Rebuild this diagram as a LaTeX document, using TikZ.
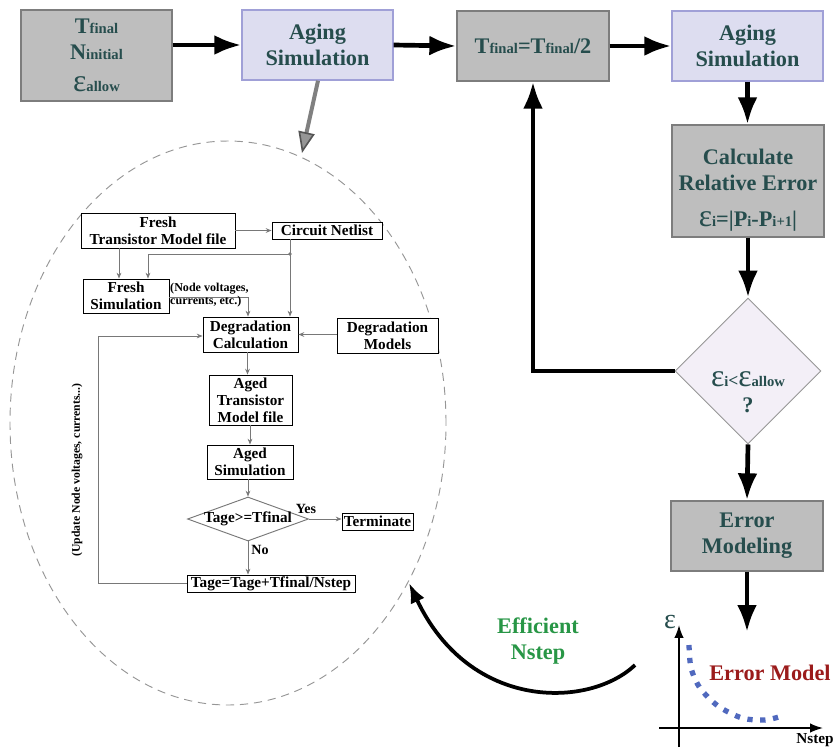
\documentclass[tikz,border=0pt]{standalone}
\usepackage{fontspec}
\setmainfont{Liberation Serif}
\usetikzlibrary{arrows.meta,shapes.geometric,calc}

\def\pxu{0.03cm}

\definecolor{txtc}{RGB}{38,77,77}
\definecolor{boxg}{RGB}{190,190,190}
\definecolor{boxgb}{RGB}{125,125,125}
\definecolor{lav}{RGB}{221,221,240}
\definecolor{lavb}{RGB}{160,160,215}
\definecolor{diaf}{RGB}{243,239,247}
\definecolor{diab}{RGB}{150,150,150}
\definecolor{effg}{RGB}{40,150,70}
\definecolor{emred}{RGB}{155,27,27}
\definecolor{dotb}{RGB}{80,105,190}
\definecolor{ing}{RGB}{120,120,120}
\definecolor{ellg}{RGB}{150,150,150}

\newcommand\mybs[2]{{\fontsize{19}{22}\selectfont #1}{\fontsize{12.5}{15}\selectfont #2}}
\newcommand\myeps{{\mdseries\fontsize{27}{22}\selectfont ε}}

\tikzset{
  bigtxt/.style={font=\bfseries\fontsize{19}{22}\selectfont, text=txtc, align=center, inner sep=0},
  gbox/.style={draw=boxgb, fill=boxg, line width=1.2pt, inner sep=0},
  lbox/.style={draw=lavb, fill=lav, line width=1.2pt, inner sep=0},
  bigarrow/.style={line width=4pt, -{Latex[length=23pt,width=17pt]}},
  ibox/.style={draw=black, fill=white, line width=0.7pt, inner sep=0, align=center,
               font=\bfseries\fontsize{13}{14.5}\selectfont},
  itxt/.style={font=\bfseries\fontsize{13}{14.5}\selectfont, align=center, inner sep=0},
  inarrow/.style={draw=ing, line width=0.8pt, -{Stealth[length=5pt,width=4pt]}},
  inline/.style={draw=ing, line width=0.8pt},
  axis/.style={line width=1.3pt, -{Latex[length=11pt,width=8pt]}}
}

\begin{document}
\begin{tikzpicture}[x=0.03cm,y=-0.03cm]
\useasboundingbox (0,0) rectangle (838,749);

% ---------- top row ----------
\node[gbox, minimum width=151*\pxu, minimum height=91*\pxu] (in) at (96.5,55.5) {};
\node[bigtxt] at (in) {\mybs{T}{final}\\\mybs{N}{initial}\\[6pt]\myeps{\fontsize{12.5}{15}\selectfont allow}};

\node[lbox, minimum width=151*\pxu, minimum height=70*\pxu, bigtxt] (age1) at (317.5,45) {Aging\\Simulation};
\node[gbox, minimum width=152*\pxu, minimum height=70*\pxu, bigtxt] (half) at (533,46) {\mybs{T}{final}\mybs{=T}{final}\mybs{/2}{}};
\node[lbox, minimum width=151*\pxu, minimum height=70*\pxu, bigtxt] (age2) at (747.5,46) {Aging\\Simulation};

\node[gbox, minimum width=152*\pxu, minimum height=112*\pxu] (calc) at (748,181) {};
\node[bigtxt] at (748,190) {Calculate\\Relative Error\\[9pt]\myeps\mybs{}{i}\mybs{=|P}{i}\mybs{-P}{i+1}\mybs{|}{}};

\node[diamond, aspect=1, draw=diab, fill=diaf, line width=0.8pt, inner sep=0,
      minimum width=146*\pxu, minimum height=146*\pxu] (dia) at (748,371) {};
\node[bigtxt] at (748,392) {\myeps\mybs{}{i}{\fontsize{15}{15}\selectfont <}\myeps\mybs{}{allow}\\?};

\node[gbox, minimum width=152*\pxu, minimum height=70*\pxu, bigtxt] (errm) at (747,536) {Error\\Modeling};

\coordinate (gtop) at (747,632);

\draw[bigarrow] (in.east |- age1.west) -- (age1.west);
\draw[bigarrow] (age1.east) -- (half.west);
\draw[bigarrow] (half.east) -- (age2.west);
\draw[bigarrow] (age2.south) -- (calc.north -| age2.south);
\draw[bigarrow] (calc.south) -- (dia.north);
\draw[bigarrow] (dia.south) -- (errm.north);
\draw[bigarrow] (errm.south) -- (gtop);
\draw[bigarrow] (dia.west) -| (half.south);

% ---------- gray arrow into the dashed ellipse ----------
\coordinate (gtip) at (302,153);
\draw[line width=3.4pt, draw={rgb,255:red,128;green,128;blue,128},
      -{Triangle[length=18pt,width=14pt,line width=1.4pt,fill={rgb,255:red,150;green,150;blue,150},color={rgb,255:red,85;green,85;blue,85}]}]
  ([xshift=0.5*\pxu]age1.south) -- (gtip);

\draw[ellg, line width=0.8pt, dash pattern=on 7pt off 5pt] (228,423) ellipse [x radius=218*\pxu, y radius=282*\pxu];

% ---------- inner flowchart ----------
\node[ibox, minimum width=154*\pxu, minimum height=35*\pxu] (ftm) at (158,230.5) {Fresh\\Transistor Model file};
\node[ibox, minimum width=110*\pxu, minimum height=17*\pxu] (cn) at (327,230.5) {Circuit Netlist};
\node[ibox, minimum width=86*\pxu, minimum height=34*\pxu] (fs) at (126,296) {Fresh\\Simulation};
\node[ibox, minimum width=95*\pxu, minimum height=35*\pxu] (dc) at (250.5,334.5) {Degradation\\Calculation};
\node[ibox, minimum width=101*\pxu, minimum height=35*\pxu] (dm) at (387.5,335.5) {Degradation\\Models};
\node[ibox, minimum width=83*\pxu, minimum height=50*\pxu] (atm) at (250.5,400) {Aged\\Transistor\\Model file};
\node[ibox, minimum width=86*\pxu, minimum height=34*\pxu] (as) at (250,462) {Aged\\Simulation};
\node[diamond, draw=ing, fill=white, line width=0.8pt, inner sep=0,
      minimum width=121*\pxu, minimum height=44*\pxu] (td) at (248,519) {};
\node[itxt] at (td) {Tage>=Tfinal};
\node[ibox, minimum width=71*\pxu, minimum height=17*\pxu] (term) at (377.5,521.5) {Terminate};
\node[ibox, minimum width=168*\pxu, minimum height=17*\pxu] (upd) at (271,583.5) {Tage=Tage+Tfinal/Nstep};

\coordinate (j) at (290,254);
\coordinate (loopx) at (98,0);

\draw[inarrow] (ftm.east |- cn.west) -- (cn.west);
\draw[inarrow] ([xshift=-7*\pxu]fs.north |- ftm.south) -- ([xshift=-7*\pxu]fs.north);
\draw[inline] (cn.south -| j) -- (j);
\draw[inarrow] (j) -- (dc.north -| j);
\draw[inarrow] (j) -| ([xshift=22*\pxu]fs.north);
\fill[ing] (j) circle[radius=1.6pt];
\draw[inarrow] ([yshift=-1*\pxu]fs.east) -| ([xshift=-2.5*\pxu]dc.north);
\draw[inarrow] (dm.west |- dc.east) -- (dc.east);
\draw[inarrow] ([xshift=-3*\pxu]dc.south) -- ([xshift=-3*\pxu]dc.south |- atm.north);
\draw[inarrow] (atm.south -| as.north) -- (as.north);
\draw[inarrow] (as.south -| td.north) -- (td.north);
\draw[inarrow] (td.east) -- (term.west |- td.east);
\draw[inarrow] (td.south) -- (upd.north -| td.south);
\draw[inarrow] (upd.west) -- (upd.west -| loopx) |- ([yshift=-1.5*\pxu]dc.west);

\node[itxt, font=\bfseries\fontsize{12}{14}\selectfont] (yes) at (306,509) {Yes};
\node[itxt, font=\bfseries\fontsize{12}{14}\selectfont] (no) at (260,550) {No};
\node[itxt, anchor=west, align=left, font=\bfseries\fontsize{10.3}{11.5}\selectfont] (nv) at (170,295) {(Node voltages,\\currents, etc.)};
\node[itxt, rotate=90, font=\bfseries\fontsize{10}{12}\selectfont] (updl) at (77,470) {(Update Node voltages, currents...)};

% ---------- efficient Nstep curve ----------
\coordinate (cs) at (635,665);
\coordinate (ce) at (409,583);
\draw[line width=3.2pt, -{Latex[length=17pt,width=13pt]}] (cs) .. controls (590,708) and (470,712) .. (ce);
\node[bigtxt, text=effg] (eff) at (538,641) {Efficient\\Nstep};

% ---------- error model graph ----------
\coordinate (yb) at (679,747);
\coordinate (yt) at (679,625);
\coordinate (xl) at (659,728);
\coordinate (xr) at (823,728);
\draw[axis] (yb) -- (yt);
\draw[axis] (xl) -- (xr);
\node[bigtxt] (eps) at (670,622) {{\mdseries\fontsize{24}{22}\selectfont ε}};
\node[itxt, font=\bfseries\fontsize{13}{14}\selectfont] (nst) at (815,740) {Nstep};
\node[bigtxt, text=emred] (emt) at (770,673) {Error Model};
\draw[dotb, line width=4.5pt, dash pattern=on 4.5pt off 6.5pt]
  plot[smooth] coordinates {(689,645) (691,668) (700,688) (718,706) (742,718) (765,720) (782,716)};

\end{tikzpicture}
\end{document}
